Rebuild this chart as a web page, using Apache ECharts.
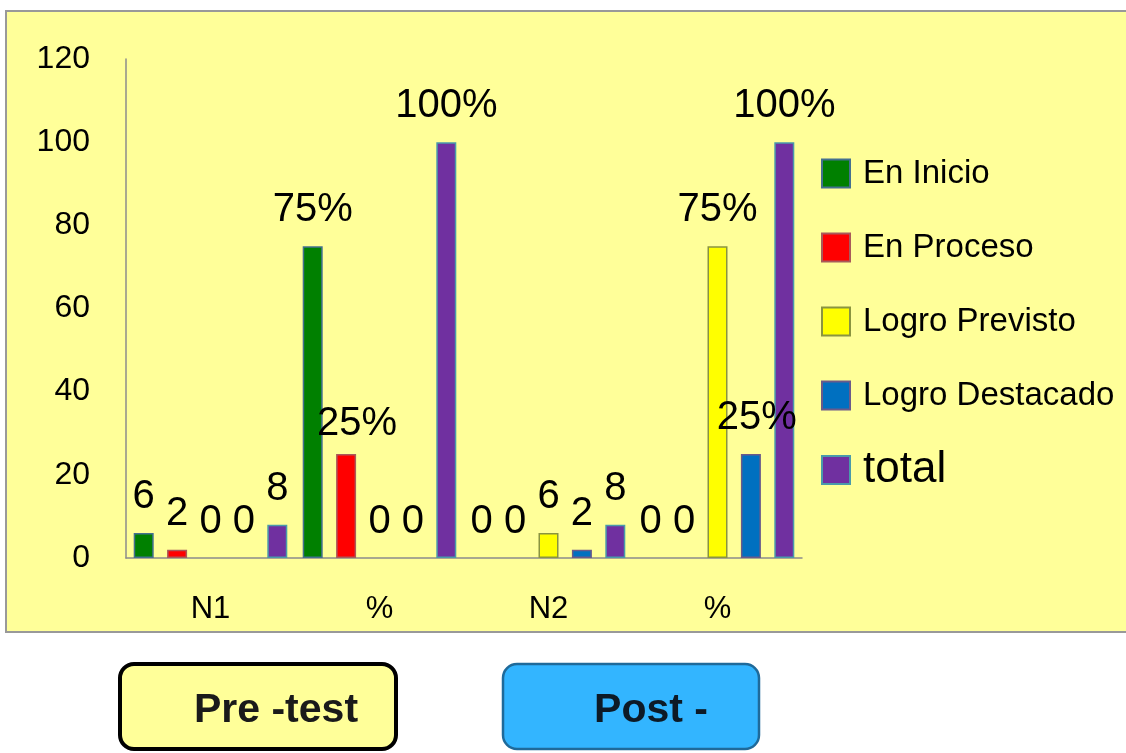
<!DOCTYPE html>
<html>
<head>
<meta charset="utf-8">
<script src="https://cdn.jsdelivr.net/npm/echarts@6/dist/echarts.min.js"></script>
<style>html,body{margin:0;padding:0;background:#fff}#c{width:1126px;height:753px}</style>
</head>
<body>
<div id="c"></div>
<script>
const categories = ['N1', '%', 'N2', '%'];
const enInicio = [6, 75, 0, 0];
const enProceso = [2, 25, 0, 0];
const logroPrevisto = [0, 0, 6, 75];
const logroDestacado = [0, 0, 2, 25];
const total = [8, 100, 8, 100];
const yTicks = [0, 20, 40, 60, 80, 100, 120];
const percentCats = [1, 3];
const seriesNames = ['En Inicio', 'En Proceso', 'Logro Previsto', 'Logro Destacado', 'total'];

const FONT = 'Liberation Sans';
const chart = echarts.init(document.getElementById('c'));

function fmt(p) {
  return (percentCats.indexOf(p.dataIndex) >= 0 && p.value > 0) ? p.value + '%' : String(p.value);
}
function mk(name, data, color, border, offsets) {
  return {
    name: name, type: 'bar', data: data.map((v, i) => {
      const o = { value: v };
      if (v === 0) o.itemStyle = { borderWidth: 0 };
      if (offsets && offsets[i]) o.label = { offset: offsets[i] };
      return o;
    }),
    barWidth: 20, barGap: '67%',
    itemStyle: { color: color, borderColor: border, borderWidth: 1.5 },
    label: { show: true, position: 'top', distance: 16, formatter: fmt,
      fontFamily: FONT, fontSize: 40, color: '#000' }
  };
}

const legendCenters = [173, 247, 321, 395, 470];
const legends = seriesNames.map((n, i) => {
  const big = n === 'total';
  const fs = big ? 44 : 33;
  return {
    orient: 'vertical', left: 816, top: legendCenters[i] - 14 - 5 - (big ? 8 : 2),
    itemWidth: 28, itemHeight: 28, icon: 'rect',
    textStyle: { fontFamily: FONT, fontSize: fs, color: '#000', padding: [0, 0, 0, 8] },
    data: [n]
  };
});

chart.setOption({
  backgroundColor: '#ffffff',
  animation: false,
  graphic: [
    { type: 'rect', z: -10, shape: { x: 6, y: 11, width: 1140, height: 621 },
      style: { fill: '#FFFF99', stroke: '#999999', lineWidth: 2 } },
    { type: 'rect', shape: { x: 120, y: 664, width: 276, height: 85, r: 14 },
      style: { fill: '#FFFF99', stroke: '#000000', lineWidth: 4 } },
    { type: 'text', x: 276, y: 711,
      style: { text: 'Pre -test', fontFamily: FONT, fontWeight: 'bold', fontSize: 41,
        fill: '#1a1a1a', textAlign: 'center', textVerticalAlign: 'middle' } },
    { type: 'rect', shape: { x: 503, y: 664, width: 256, height: 85, r: 14 },
      style: { fill: '#33B5FF', stroke: '#1F6A9A', lineWidth: 2.5 } },
    { type: 'text', x: 651, y: 711,
      style: { text: 'Post -', fontFamily: FONT, fontWeight: 'bold', fontSize: 41,
        fill: '#0d1a26', textAlign: 'center', textVerticalAlign: 'middle' } }
  ],
  grid: { left: 126, right: 324, top: 59, bottom: 195 },
  legend: legends,
  xAxis: {
    type: 'category', data: categories,
    axisLine: { lineStyle: { color: '#8C8C8C', width: 1.5 } },
    axisTick: { show: false },
    axisLabel: { fontFamily: FONT, fontSize: 31, color: '#000', margin: 36 }
  },
  yAxis: {
    type: 'value', min: yTicks[0], max: yTicks[yTicks.length - 1], interval: 20,
    axisLine: { show: true, lineStyle: { color: '#8C8C8C', width: 1.5 } },
    axisTick: { show: false },
    splitLine: { show: false },
    axisLabel: { fontFamily: FONT, fontSize: 32, color: '#000', margin: 36 }
  },
  series: [
    mk(seriesNames[0], enInicio, '#008000', '#44708F'),
    mk(seriesNames[1], enProceso, '#FF0000', '#A85A5A', [null, [11, 6]]),
    mk(seriesNames[2], logroPrevisto, '#FFFF00', '#8A9440'),
    mk(seriesNames[3], logroDestacado, '#0070C0', '#6A5A8A', [null, null, null, [6, 0]]),
    mk(seriesNames[4], total, '#7030A0', '#4A9AAA')
  ]
});
</script>
</body>
</html>
